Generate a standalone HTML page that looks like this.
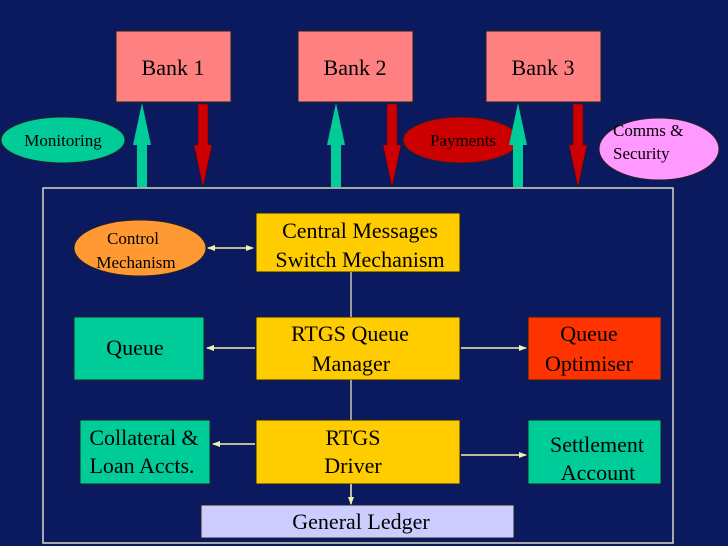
<!DOCTYPE html>
<html><head><style>body{margin:0;background:#0b1a5f}svg{display:block}text{font-family:"Liberation Serif",serif;fill:#000}</style></head><body>
<svg width="728" height="546" viewBox="0 0 728 546">
<rect width="728" height="546" fill="#0b1a5f"/>
<defs><marker id="a" markerWidth="8" markerHeight="8" refX="7" refY="4" orient="auto" markerUnits="userSpaceOnUse"><path d="M0,1 L8,4 L0,7 Z" fill="#f2f2b0"/></marker>
<marker id="b" markerWidth="8" markerHeight="8" refX="1" refY="4" orient="auto" markerUnits="userSpaceOnUse"><path d="M8,1 L0,4 L8,7 Z" fill="#f2f2b0"/></marker></defs>
<g stroke="#222" stroke-width="1">
<rect x="116" y="31" width="115" height="71" fill="#ff8080"/>
<rect x="298" y="31" width="115" height="71" fill="#ff8080"/>
<rect x="486" y="31" width="115" height="71" fill="#ff8080"/>
</g>
<text x="173" y="75" font-size="22" text-anchor="middle">Bank 1</text>
<text x="355" y="75" font-size="22" text-anchor="middle">Bank 2</text>
<text x="543" y="75" font-size="22" text-anchor="middle">Bank 3</text>
<ellipse cx="63" cy="140" rx="62" ry="23" fill="#00cc99" stroke="#222"/>
<text x="63" y="146" font-size="17" text-anchor="middle">Monitoring</text>
<ellipse cx="461" cy="140" rx="58" ry="23" fill="#cc0000" stroke="#222"/>
<text x="463" y="146" font-size="17" text-anchor="middle">Payments</text>
<ellipse cx="659" cy="149" rx="60" ry="31" fill="#ff99ff" stroke="#222"/>
<text x="613" y="136" font-size="17">Comms &amp;</text>
<text x="613" y="159" font-size="17">Security</text>
<g fill="#00cc99">
<path d="M137,187 V145 H133 L142,103 L151,145 H147 V187 Z"/>
<path d="M331,187 V145 H327 L336,103 L345,145 H341 V187 Z"/>
<path d="M513,187 V145 H509 L518,103 L527,145 H523 V187 Z"/>
</g>
<g fill="#cc0000" stroke="#660000" stroke-width="0.5">
<path d="M198,104 V145 H194 L203,187 L212,145 H208 V104 Z"/>
<path d="M387,104 V145 H383 L392,187 L401,145 H397 V104 Z"/>
<path d="M573,104 V145 H569 L578,187 L587,145 H583 V104 Z"/>
</g>
<rect x="43" y="188" width="630" height="355" fill="none" stroke="#d8d8c0" stroke-width="1.5"/>
<g stroke="#222">
<rect x="256" y="213" width="204" height="59" fill="#ffcc00"/>
<rect x="256" y="317" width="204" height="63" fill="#ffcc00"/>
<rect x="256" y="420" width="204" height="64" fill="#ffcc00"/>
<rect x="201" y="505" width="313" height="33" fill="#ccccff"/>
<rect x="74" y="317" width="130" height="63" fill="#00cc99"/>
<rect x="528" y="317" width="133" height="63" fill="#ff3300"/>
<rect x="80" y="420" width="130" height="64" fill="#00cc99"/>
<rect x="528" y="420" width="133" height="64" fill="#00cc99"/>
<ellipse cx="140" cy="248" rx="66" ry="28" fill="#ff9933"/>
</g>
<g stroke="#c8c8b0" stroke-width="1.5" fill="none">
<line x1="351" y1="272" x2="351" y2="317"/>
<line x1="351" y1="380" x2="351" y2="420"/>
</g>
<g stroke="#f2f2b0" stroke-width="1.5">
<line x1="208" y1="248" x2="253" y2="248" marker-end="url(#a)" marker-start="url(#b)"/>
<line x1="255" y1="348" x2="207" y2="348" marker-end="url(#a)"/>
<line x1="461" y1="348" x2="526" y2="348" marker-end="url(#a)"/>
<line x1="255" y1="444" x2="213" y2="444" marker-end="url(#a)"/>
<line x1="461" y1="455" x2="526" y2="455" marker-end="url(#a)"/>
<line x1="351" y1="484" x2="351" y2="504" marker-end="url(#a)"/>
</g>
<g font-size="22" text-anchor="middle">
<text x="360" y="238">Central Messages</text>
<text x="360" y="267">Switch Mechanism</text>
<text x="350" y="341">RTGS Queue</text>
<text x="351" y="371">Manager</text>
<text x="353" y="445">RTGS</text>
<text x="353" y="473">Driver</text>
<text x="361" y="529">General Ledger</text>
<text x="135" y="355">Queue</text>
<text x="589" y="341">Queue</text>
<text x="589" y="371">Optimiser</text>
<text x="144" y="445">Collateral &amp;</text>
<text x="142" y="473">Loan Accts.</text>
<text x="597" y="452">Settlement</text>
<text x="598" y="480">Account</text>
</g>
<text x="133" y="244" font-size="17" text-anchor="middle">Control</text>
<text x="136" y="268" font-size="17" text-anchor="middle">Mechanism</text>
</svg>
</body></html>
